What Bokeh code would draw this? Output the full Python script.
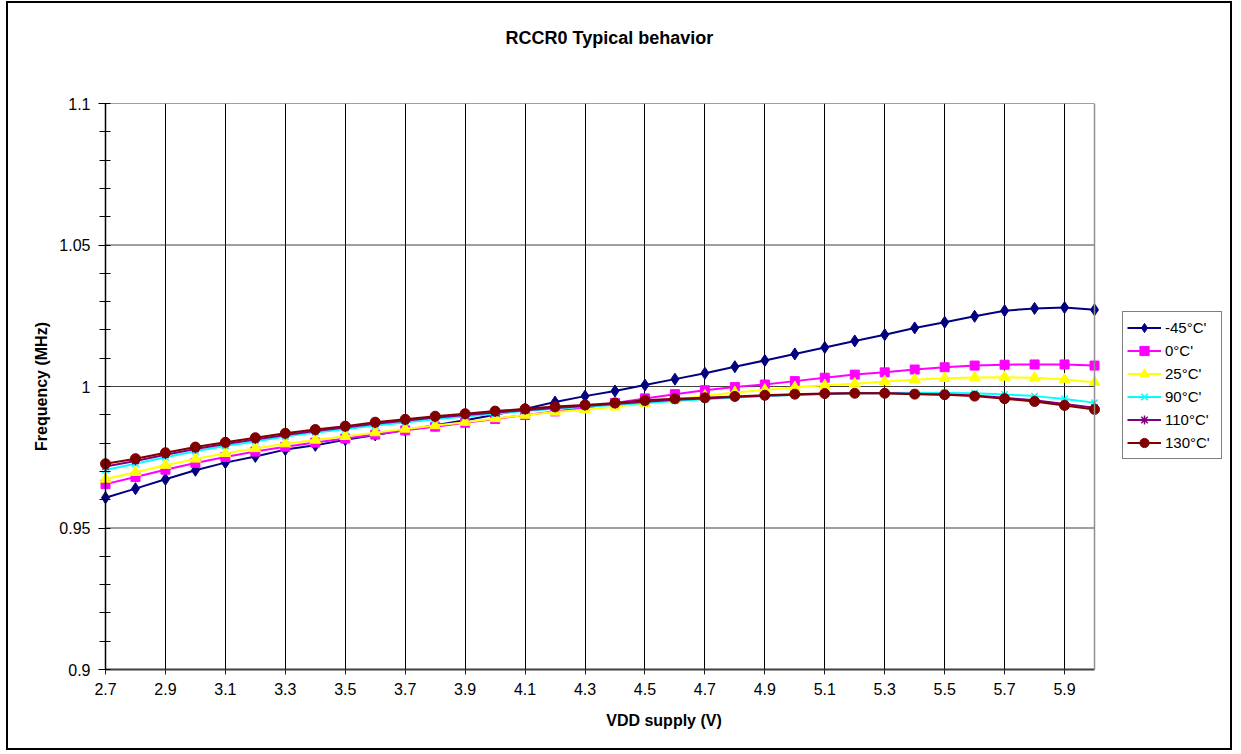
import numpy as np
from bokeh.plotting import figure
from bokeh.models import Range1d, FixedTicker, Legend, LegendItem, Span, Title
from bokeh.embed import file_html
from bokeh.resources import INLINE

vdd = [2.7, 2.8, 2.9, 3.0, 3.1, 3.2, 3.3, 3.4, 3.5, 3.6, 3.7, 3.8, 3.9, 4.0, 4.1, 4.2, 4.3,
       4.4, 4.5, 4.6, 4.7, 4.8, 4.9, 5.0, 5.1, 5.2, 5.3, 5.4, 5.5, 5.6, 5.7, 5.8, 5.9, 6.0]

t_m45 = [0.9607, 0.9639, 0.9672, 0.9704, 0.9731, 0.9753, 0.9777, 0.9792, 0.9812, 0.9829, 0.9846,
         0.9863, 0.9881, 0.9900, 0.9921, 0.9945, 0.9966, 0.9984, 1.0005, 1.0026, 1.0047, 1.0070,
         1.0092, 1.0115, 1.0138, 1.0161, 1.0183, 1.0207, 1.0227, 1.0248, 1.0268, 1.0276, 1.0279, 1.0271]
t_0 = [0.9655, 0.9680, 0.9706, 0.9730, 0.9751, 0.9770, 0.9787, 0.9802, 0.9816, 0.9830, 0.9845,
       0.9858, 0.9872, 0.9885, 0.9899, 0.9912, 0.9925, 0.9942, 0.9958, 0.9973, 0.9987, 0.9998,
       1.0007, 1.0019, 1.0031, 1.0042, 1.0050, 1.0060, 1.0068, 1.0074, 1.0077, 1.0078, 1.0078, 1.0074]
t_25 = [0.9673, 0.9697, 0.9722, 0.9744, 0.9764, 0.9781, 0.9798, 0.9811, 0.9824, 0.9837, 0.9850,
        0.9862, 0.9874, 0.9887, 0.9899, 0.9910, 0.9918, 0.9928, 0.9940, 0.9953, 0.9967, 0.9979,
        0.9988, 0.9997, 1.0004, 1.0010, 1.0018, 1.0024, 1.0029, 1.0032, 1.0033, 1.0031, 1.0025, 1.0015]
t_90 = [0.9705, 0.9727, 0.9750, 0.9771, 0.9790, 0.9806, 0.9823, 0.9837, 0.9849, 0.9862, 0.9873,
        0.9884, 0.9894, 0.9904, 0.9913, 0.9921, 0.9928, 0.9935, 0.9942, 0.9949, 0.9955, 0.9961,
        0.9966, 0.9970, 0.9973, 0.9976, 0.9977, 0.9978, 0.9977, 0.9976, 0.9972, 0.9966, 0.9956, 0.9943]
t_110 = [0.9717, 0.9737, 0.9759, 0.9779, 0.9797, 0.9813, 0.9829, 0.9843, 0.9855, 0.9868, 0.9879,
         0.9890, 0.9899, 0.9908, 0.9916, 0.9924, 0.9931, 0.9938, 0.9946, 0.9953, 0.9958, 0.9963,
         0.9967, 0.9971, 0.9974, 0.9976, 0.9976, 0.9974, 0.9972, 0.9968, 0.9960, 0.9951, 0.9938, 0.9925]
t_130 = [0.9727, 0.9745, 0.9766, 0.9786, 0.9803, 0.9819, 0.9835, 0.9848, 0.9860, 0.9874, 0.9884,
         0.9895, 0.9904, 0.9913, 0.9921, 0.9929, 0.9935, 0.9942, 0.9951, 0.9957, 0.9960, 0.9965,
         0.9969, 0.9973, 0.9975, 0.9976, 0.9976, 0.9973, 0.9971, 0.9966, 0.9957, 0.9947, 0.9933, 0.9919]

series_labels = ["-45°C'", "0°C'", "25°C'", "90°C'", "110°C'", "130°C'"]
x_ticks = [2.7, 2.9, 3.1, 3.3, 3.5, 3.7, 3.9, 4.1, 4.3, 4.5, 4.7, 4.9, 5.1, 5.3, 5.5, 5.7, 5.9]
x_tick_labels = ["2.7", "2.9", "3.1", "3.3", "3.5", "3.7", "3.9", "4.1", "4.3", "4.5", "4.7",
                 "4.9", "5.1", "5.3", "5.5", "5.7", "5.9"]
y_ticks = [0.9, 0.95, 1.0, 1.05, 1.1]
y_tick_labels = ["0.9", "0.95", "1", "1.05", "1.1"]
y_minor = [0.91, 0.92, 0.93, 0.94, 0.96, 0.97, 0.98, 0.99, 1.01, 1.02, 1.03, 1.04,
           1.06, 1.07, 1.08, 1.09]

FONT = "Liberation Sans"

# layout geometry (pixels)
W, H = 1226, 749
MB_L, MB_R, MB_T, MB_B = 91, 6, 100, 83
PX_PER_V = 299.7
x_start = vdd[0] - 6 / PX_PER_V
x_end = x_start + (W - MB_L - MB_R) / PX_PER_V

p = figure(width=W, height=H, output_backend="svg", toolbar_location=None, title=None,
           x_range=Range1d(x_start, x_end), y_range=Range1d(y_ticks[0], y_ticks[-1]),
           min_border_left=MB_L, min_border_right=MB_R, min_border_top=MB_T,
           min_border_bottom=MB_B)
p.styles = {"border": "2px solid black", "margin-left": "6px", "margin-top": "1px"}
p.outline_line_color = None
p.background_fill_color = "white"
p.border_fill_color = "white"

spacer = Title(text=" ", text_font_size="10px", standoff=38)
p.add_layout(spacer, "above")
main_title = Title(text="RCCR0  Typical behavior", text_font=FONT, text_font_size="18px",
                   text_font_style="bold", text_color="black", align="left", offset=406,
                   standoff=10)
p.add_layout(main_title, "above")

xt = FixedTicker(ticks=x_ticks)
yt = FixedTicker(ticks=y_ticks, minor_ticks=y_minor)

xa = p.xaxis[0]
xa.ticker = xt
xa.bounds = (vdd[0], vdd[-1])
xa.major_label_overrides = {v: s for v, s in zip(x_ticks, x_tick_labels)}
xa.axis_label = "VDD supply (V)"
xa.axis_line_color = "#404040"
xa.axis_line_width = 2
xa.major_tick_in = 0
xa.major_tick_out = 5
xa.major_tick_line_color = "#202020"
xa.minor_tick_line_color = None
xa.major_label_standoff = 8
xa.axis_label_standoff = 14

ya = p.yaxis[0]
ya.ticker = yt
ya.major_label_overrides = {v: s for v, s in zip(y_ticks, y_tick_labels)}
ya.axis_label = "Frequency (MHz)"
ya.axis_line_color = None
ya.major_tick_in = 11
ya.major_tick_out = 1
ya.minor_tick_in = 11
ya.minor_tick_out = 0
ya.major_tick_line_color = "black"
ya.minor_tick_line_color = "black"
ya.major_label_standoff = 8
ya.axis_label_standoff = 6

for ax in (xa, ya):
    ax.major_label_text_font = FONT
    ax.major_label_text_font_size = "16px"
    ax.major_label_text_color = "black"
    ax.axis_label_text_font = FONT
    ax.axis_label_text_font_size = "16px"
    ax.axis_label_text_font_style = "bold"
    ax.axis_label_text_color = "black"

p.xgrid.ticker = xt
p.xgrid.grid_line_color = "black"
p.xgrid.grid_line_width = 1
p.ygrid.grid_line_color = None

# horizontal gridlines limited to the plotted voltage span
p.segment(x0=[vdd[0]] * len(y_ticks), x1=[vdd[-1]] * len(y_ticks), y0=y_ticks, y1=y_ticks,
          line_color="#404040", line_width=1)

p.add_layout(Span(location=vdd[-1], dimension="height", line_color="#909090", line_width=1.5))
p.add_layout(Span(location=vdd[0], dimension="height", line_color="black", line_width=1.5))

styles = [
    ("#000080", dict(marker="diamond", size=12)),
    ("#FF00FF", dict(marker="square", size=9)),
    ("#FFFF00", dict(marker="triangle", size=11)),
    ("#00FFFF", dict(marker="x", size=9, line_width=1.5)),
    ("#800080", dict(marker="asterisk", size=9, line_width=1.5)),
    ("#800000", dict(marker="circle", size=10)),
]
data = [t_m45, t_0, t_25, t_90, t_110, t_130]

items = []
for lab, ys, (col, mk) in zip(series_labels, data, styles):
    r1 = p.line(vdd, ys, line_color=col, line_width=2)
    kw = dict(mk)
    lw = kw.pop("line_width", 1)
    r2 = p.scatter(vdd, ys, fill_color=col, line_color=col, line_width=lw, **kw)
    items.append(LegendItem(label=lab, renderers=[r1, r2]))

legend = Legend(items=items, location=(1023, 210))
legend.label_text_font = FONT
legend.label_text_font_size = "15px"
legend.label_text_color = "black"
legend.glyph_width = 34
legend.glyph_height = 23
legend.label_height = 23
legend.label_width = 52
legend.label_standoff = 4
legend.spacing = 0
legend.padding = 4
legend.margin = 0
legend.border_line_color = "black"
legend.border_line_width = 1
legend.background_fill_color = "white"
legend.background_fill_alpha = 1
p.add_layout(legend, "center")

open("out.html", "w").write(file_html(p, INLINE))
